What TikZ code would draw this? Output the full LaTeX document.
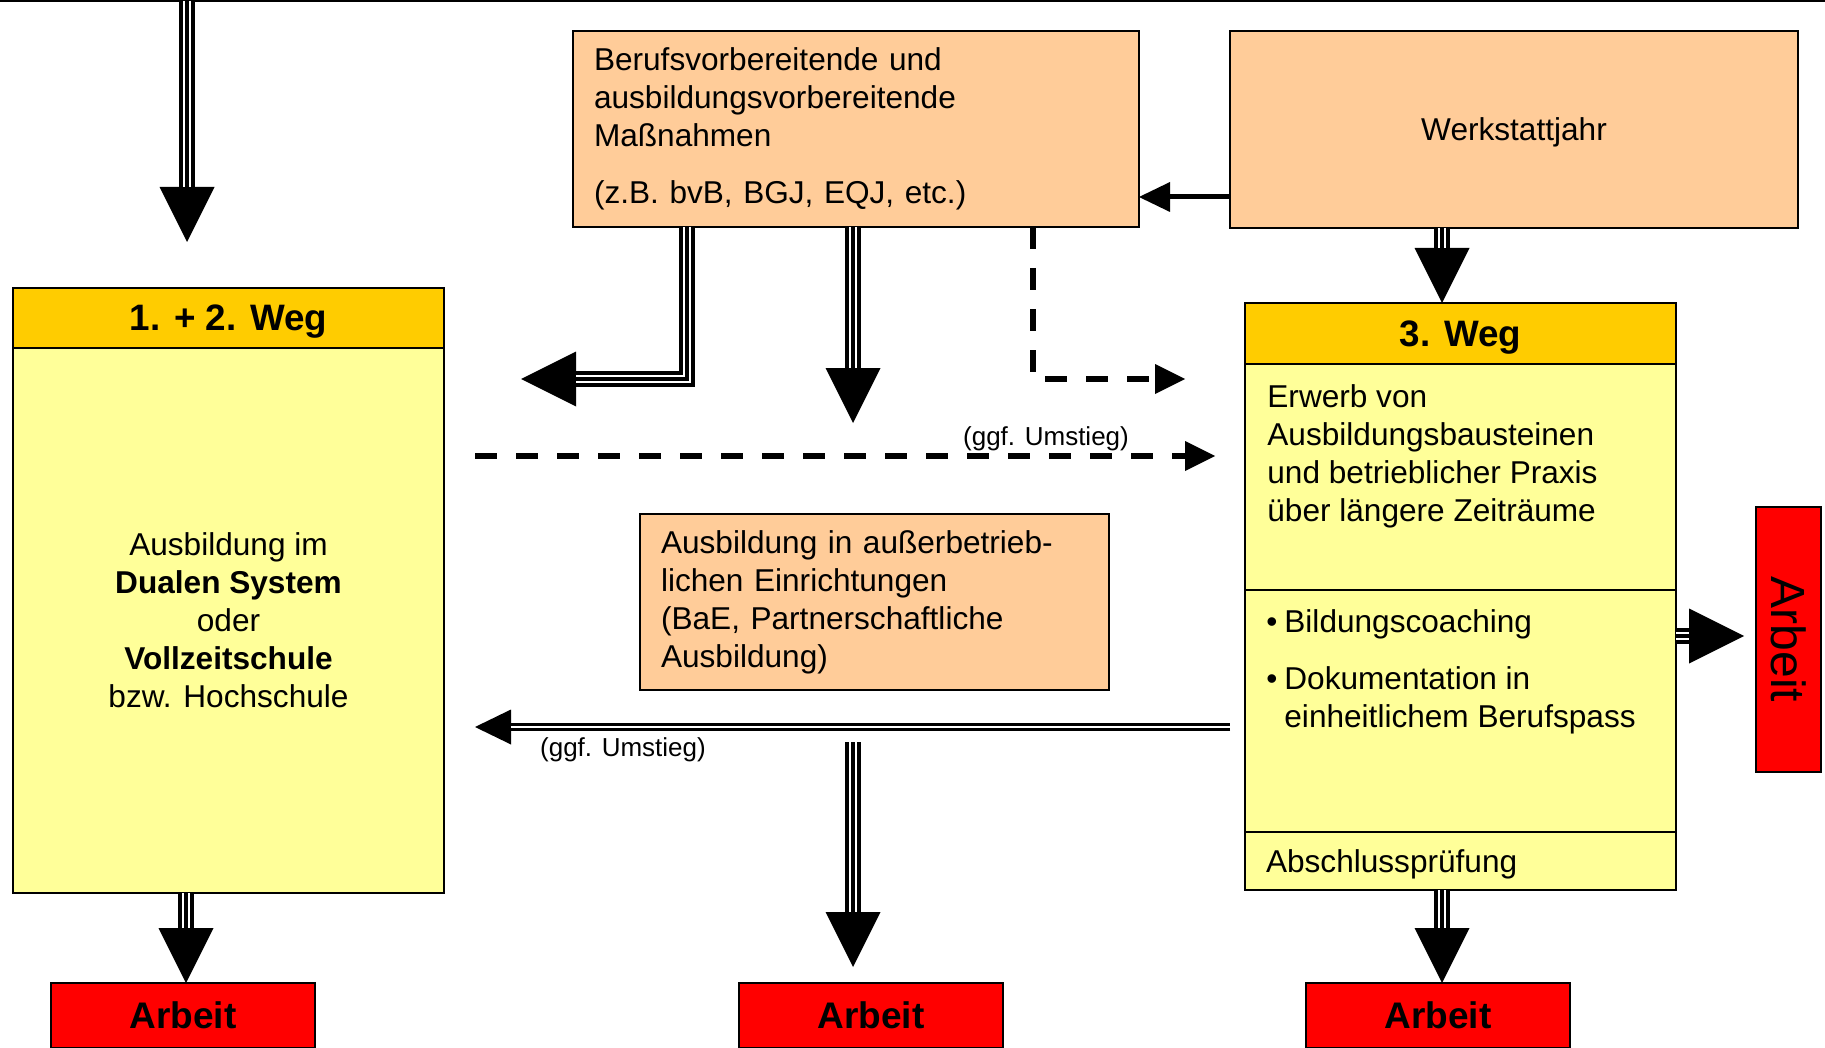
\documentclass[tikz,border=0pt]{standalone}
\usepackage{fontspec}
\setmainfont{Liberation Sans}
\usetikzlibrary{arrows.meta}
\definecolor{boxorange}{HTML}{FFCC99}
\definecolor{headgold}{HTML}{FFCC00}
\definecolor{bodyyellow}{HTML}{FFFF99}
\definecolor{workred}{HTML}{FF0000}

\begin{document}
\begin{tikzpicture}[
  x=0.5pt, y=-0.5pt,
  font=\fontsize{15.8}{19}\selectfont,
  box/.style={draw=black, line width=1pt, anchor=north west, inner sep=0pt, outer sep=0pt},
  orangebox/.style={box, fill=boxorange, inner xsep=10.5pt, align=left},
  head/.style={box, fill=headgold, minimum width=215.5pt, minimum height=30pt, text depth=0pt,
    font=\bfseries\fontsize{18.4}{22}\selectfont},
  body/.style={box, fill=bodyyellow, minimum width=215.5pt},
  work/.style={box, fill=workred, minimum width=132pt, minimum height=32.5pt, text depth=0pt,
    font=\bfseries\fontsize{18.5}{22}\selectfont},
  txt/.style={anchor=north west, inner sep=0pt, align=left},
  note/.style={font=\fontsize{13}{15}\selectfont, inner sep=0pt},
  tri/.style={line width=8pt, -{Triangle[length=27.5pt, width=27.5pt, line width=0pt]},
    postaction={draw=white, line width=4.4pt, -, shorten >=27.4pt},
    postaction={draw=black, line width=1.6pt, -, shorten >=27.4pt}},
  dbl/.style={line width=4pt, -{Triangle[length=18pt, width=17.5pt, line width=0pt]},
    postaction={draw=white, line width=1.4pt, -, shorten >=17.9pt}},
  plainarrow/.style={line width=2.5pt, -{Triangle[length=15.5pt, width=15pt, line width=0pt]}},
  dashedarrow/.style={line width=3pt, dash pattern=on 11pt off 9.5pt,
    -{Triangle[length=15pt, width=15pt, line width=0pt]}}
]
\useasboundingbox (0,0) rectangle (1825,1048);
\draw[line width=1.25pt] (0,1) -- (1825,1);

% top row
\node[orangebox, minimum width=283pt, minimum height=98pt, text width=262pt] (beruf) at (573,31) {
  Berufsvorbereitende und\\
  ausbildungsvorbereitende\\
  Maßnahmen\\[9.5pt]
  (z.B. bvB, BGJ, EQJ, etc.)
};
\node[box, fill=boxorange, minimum width=284pt, minimum height=98.5pt, text depth=0pt] (werk) at (1230,31) {Werkstattjahr};

% 1. + 2. Weg
\node[head] (w12h) at (13,288) {1. + 2. Weg};
\node[body, minimum height=272.5pt, align=center] (w12b) at (13,348) {
  Ausbildung im\\
  \textbf{Dualen System}\\
  oder\\
  \textbf{Vollzeitschule}\\
  bzw. Hochschule
};

% middle
\node[orangebox, minimum width=234.5pt, minimum height=88pt, text width=213.5pt] (extern) at (640,514) {
  Ausbildung in außerbetrieb-\\
  lichen Einrichtungen\\
  (BaE, Partnerschaftliche\\
  Ausbildung)
};

% 3. Weg
\node[head, minimum height=30.5pt] (w3h) at (1245,303) {3. Weg};
\node[body, minimum height=113pt] (w3a) at (1245,364) {};
\node[body, minimum height=121pt] (w3b) at (1245,590) {};
\node[body, minimum height=29pt, text width=194.5pt, inner xsep=10.5pt, align=left, text depth=0pt] (w3c) at (1245,832) {Abschlussprüfung};
\node[txt] (erwerb) at (1267,384) {
  Erwerb von\\
  Ausbildungsbausteinen\\
  und betrieblicher Praxis\\
  über längere Zeiträume
};
\node[txt] (coach) at (1266,609) {
  \makebox[9pt][l]{\textbullet}Bildungscoaching\\[9.5pt]
  \makebox[9pt][l]{\textbullet}Dokumentation in\\
  \hspace*{9pt}einheitlichem Berufspass
};

% Arbeit
\node[work] (arb1) at (51,983) {Arbeit};
\node[work] (arb2) at (739,983) {Arbeit};
\node[work] (arb3) at (1306,983) {Arbeit};
\node[box, fill=workred, minimum width=32.5pt, minimum height=132.5pt,
  font=\fontsize{24}{28}\selectfont] (arbR) at (1756,507) {\rotatebox{-90}{Arbeit}};

% labels
\node[note] (ggf1) at (1046,439) {(ggf. Umstieg)};
\node[note] (ggf2) at (623,750) {(ggf. Umstieg)};

% free ends
\coordinate (topin) at (187,1);
\coordinate (w12in) at (187,242);
\coordinate (leftend) at (521,379);
\coordinate (midend) at (853,423);
\coordinate (dashend) at (1185,379);
\coordinate (umst1a) at (475,456);
\coordinate (umst1b) at (1215,456);
\coordinate (umst2a) at (1230,727);
\coordinate (umst2b) at (475,727);
\coordinate (midlow) at (853,742);
\coordinate (midlowend) at (853,967);
\coordinate (arbRin) at (1744,636);

% connectors
\draw[tri] (topin) -- (w12in);
\draw[tri] (beruf.south -| 687,0) |- (leftend);
\draw[tri] (beruf.south -| midend) -- (midend);
\draw[dashedarrow] (beruf.south -| 1033,0) |- (dashend);
\draw[plainarrow] (werk.west |- 0,197) -- (beruf.east |- 0,197);
\draw[tri] (werk.south -| 1442,0) -- (w3h.north -| 1442,0);
\draw[dashedarrow] (umst1a) -- (umst1b);
\draw[dbl] (umst2a) -- (umst2b);
\draw[tri] (midlow) -- (midlowend);
\draw[tri] (w12b.south -| 186,0) -- (arb1.north -| 186,0);
\draw[tri] (w3c.south -| 1442,0) -- (arb3.north -| 1442,0);
\draw[tri] (w3b.east |- 0,636) -- (arbRin);
\end{tikzpicture}
\end{document}
